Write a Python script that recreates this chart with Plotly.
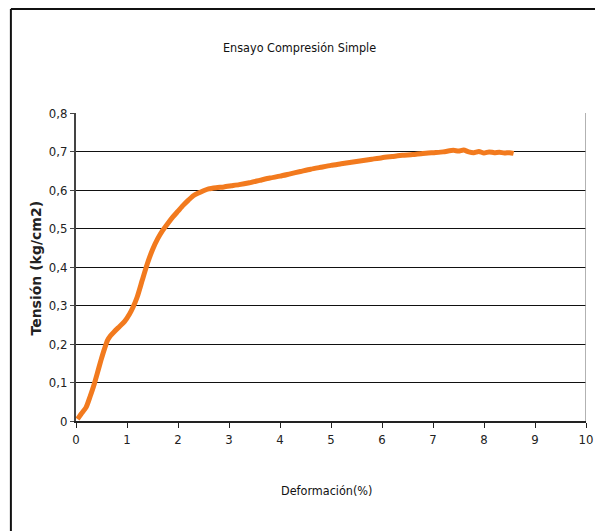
import plotly.graph_objects as go

# ---- data ----
deformacion = [0.03, 0.1, 0.2, 0.28, 0.36, 0.42, 0.49, 0.56, 0.62, 0.68, 0.75, 0.85, 0.95,
               1.05, 1.12, 1.2, 1.3, 1.4, 1.5, 1.6, 1.7, 1.8, 1.9, 2.0, 2.1, 2.2, 2.3, 2.4,
               2.5, 2.6, 2.75, 2.9, 3.05, 3.2, 3.4, 3.6, 3.8, 4.0, 4.2, 4.4, 4.6, 4.8, 5.0,
               5.2, 5.4, 5.6, 5.8, 6.0, 6.2, 6.4, 6.6, 6.8, 7.0, 7.2, 7.4, 7.5, 7.6, 7.7,
               7.8, 7.9, 8.0, 8.1, 8.2, 8.3, 8.4, 8.5, 8.58]
tension = [0.005, 0.018, 0.036, 0.065, 0.097, 0.125, 0.158, 0.188, 0.21, 0.222, 0.232,
           0.245, 0.258, 0.278, 0.296, 0.322, 0.366, 0.409, 0.445, 0.473, 0.495, 0.513,
           0.53, 0.545, 0.56, 0.573, 0.585, 0.592, 0.598, 0.603, 0.606, 0.608, 0.611,
           0.614, 0.619, 0.625, 0.631, 0.636, 0.642, 0.648, 0.654, 0.659, 0.664, 0.668,
           0.672, 0.676, 0.68, 0.684, 0.687, 0.69, 0.692, 0.695, 0.697, 0.699, 0.703,
           0.701, 0.704, 0.699, 0.697, 0.700, 0.696, 0.699, 0.697, 0.698, 0.696, 0.697,
           0.695]

x_tickvals = [0, 1, 2, 3, 4, 5, 6, 7, 8, 9, 10]
x_ticktext = ["0", "1", "2", "3", "4", "5", "6", "7", "8", "9", "10"]
y_tickvals = [0, 0.1, 0.2, 0.3, 0.4, 0.5, 0.6, 0.7, 0.8]
y_ticktext = ["0", "0,1", "0,2", "0,3", "0,4", "0,5", "0,6", "0,7", "0,8"]

title_text = "Ensayo Compresión Simple"
x_title = "Deformación(%)"
y_title = "Tensión (kg/cm2)"

NARROW = "Liberation Sans Narrow, DejaVu Sans Condensed, Arial Narrow, sans-serif"

fig = go.Figure()
fig.add_trace(go.Scatter(
    x=deformacion, y=tension, mode="lines",
    line=dict(color="#F27A1E", width=5, shape="spline", smoothing=0.6),
    showlegend=False, hoverinfo="skip",
))

# page body has an 8px margin; figure occupies window pixels 8..603 / 8..531
OFF = 8
W, H = 603 - OFF, 531 - OFF
L, R, T, B = 76 - OFF, 10, 113 - OFF, 110
pw, ph = W - L - R, H - T - B

def px2paper_x(px):  # px in window coordinates
    return (px - OFF - L) / pw

def px2paper_y(py):
    return (H - B - (py - OFF)) / ph

fig.update_layout(
    width=W, height=H,
    margin=dict(l=L, r=R, t=T, b=B, pad=0),
    paper_bgcolor="white", plot_bgcolor="white",
    font=dict(family=NARROW, size=12, color="#222"),
    xaxis=dict(
        range=[0, 10], tickvals=x_tickvals, ticktext=x_ticktext,
        showgrid=False, zeroline=False,
        showline=True, linecolor="#222", linewidth=2,
        ticks="outside", ticklen=5, tickcolor="#222", tickwidth=1,
        tickfont=dict(family=NARROW, size=13, color="#222"),
        fixedrange=True,
    ),
    yaxis=dict(
        range=[0, 0.8], tickvals=y_tickvals, ticktext=y_ticktext,
        showgrid=True, gridcolor="#111", gridwidth=1.4,
        zeroline=False,
        showline=True, linecolor="#444", linewidth=2,
        ticks="outside", ticklen=4, tickcolor="#444", tickwidth=1,
        tickfont=dict(family=NARROW, size=13, color="#222"),
        fixedrange=True,
    ),
    shapes=[
        # right border of plot area
        dict(type="line", xref="x", yref="y", x0=10, x1=10, y0=0, y1=0.8,
             line=dict(color="#999", width=1.5)),
        # outer frame top and left
        dict(type="line", xref="paper", yref="paper",
             x0=px2paper_x(10), x1=px2paper_x(605), y0=px2paper_y(9), y1=px2paper_y(9),
             line=dict(color="#111", width=2)),
        dict(type="line", xref="paper", yref="paper",
             x0=px2paper_x(10), x1=px2paper_x(10), y0=px2paper_y(9), y1=px2paper_y(533),
             line=dict(color="#111", width=2)),
    ],
    annotations=[
        dict(text=title_text, xref="paper", yref="paper",
             x=px2paper_x(303), y=px2paper_y(47), xanchor="center", yanchor="middle",
             showarrow=False, font=dict(family=NARROW, size=12.5, color="#111")),
        dict(text=x_title, xref="paper", yref="paper",
             x=px2paper_x(330), y=px2paper_y(490), xanchor="center", yanchor="middle",
             showarrow=False, font=dict(family=NARROW, size=12.5, color="#111")),
        dict(text="<b>" + y_title + "</b>", xref="paper", yref="paper",
             x=px2paper_x(35), y=px2paper_y(268), xanchor="center", yanchor="middle",
             textangle=-90, showarrow=False,
             font=dict(family="DejaVu Sans, Liberation Sans, sans-serif", size=14, color="#222")),
    ],
)

fig.write_html("out.html")
